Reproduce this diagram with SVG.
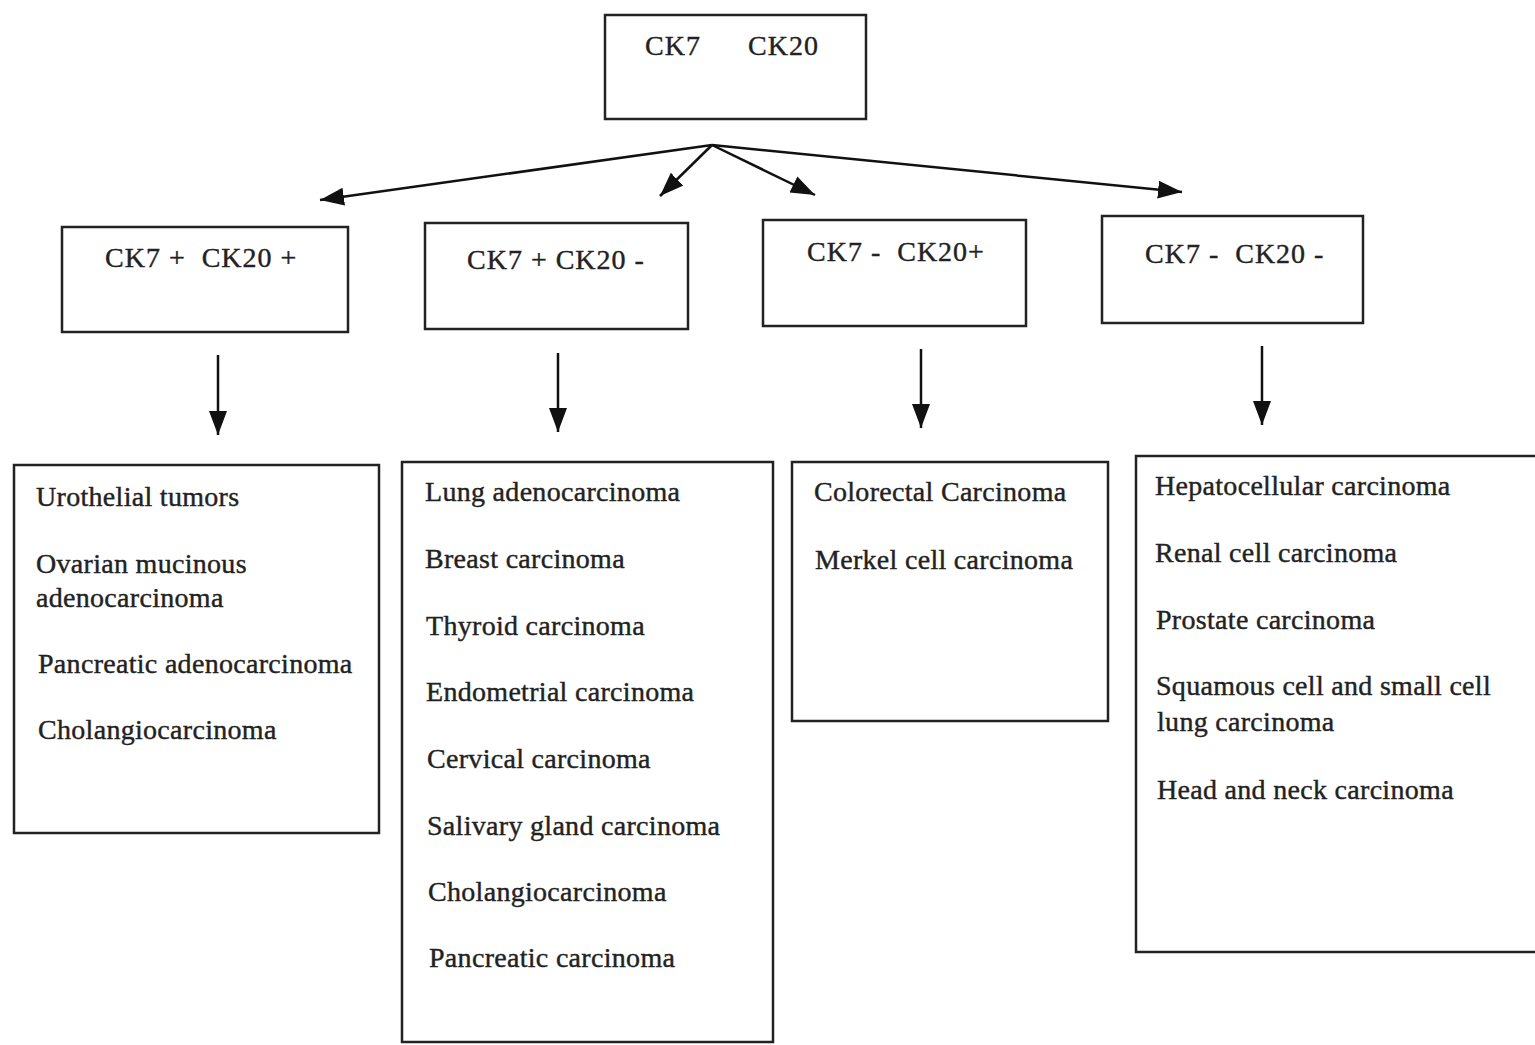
<svg xmlns="http://www.w3.org/2000/svg" width="1535" height="1045" viewBox="0 0 1535 1045">
<style>
.box{fill:#fff;stroke:#222;stroke-width:2.5}
.t{font-family:"Liberation Serif","Times New Roman",serif;font-size:28px;letter-spacing:0.3px;fill:#222;stroke:#222;stroke-width:0.4}
.h{font-family:"Liberation Serif","Times New Roman",serif;font-size:28px;letter-spacing:1px;fill:#222;stroke:#222;stroke-width:0.4}
.c{stroke:#111;stroke-width:2.5;fill:none;marker-end:url(#ah)}
</style>
<defs>
<marker id="ah" markerUnits="userSpaceOnUse" markerWidth="26" markerHeight="22" refX="24" refY="11" orient="auto">
<path d="M0,2 L24,11 L0,20 Z" fill="#111"/>
</marker>
</defs>
<rect width="1535" height="1045" fill="#fff"/>
<g id="root">
<rect class="box" x="605" y="15" width="261" height="104"/>
<text class="h" x="645" y="55">CK7</text>
<text class="h" x="748" y="55">CK20</text>
</g>
<g id="n1">
<rect class="box" x="62" y="227" width="286" height="105"/>
<text class="h" x="105" y="267" xml:space="preserve">CK7 +  CK20 +</text>
</g>
<g id="n2">
<rect class="box" x="425" y="223" width="263" height="106"/>
<text class="h" x="467" y="269">CK7 + CK20 -</text>
</g>
<g id="n3">
<rect class="box" x="763" y="220" width="263" height="106"/>
<text class="h" x="807" y="261" xml:space="preserve">CK7 -  CK20+</text>
</g>
<g id="n4">
<rect class="box" x="1102" y="216" width="261" height="107"/>
<text class="h" x="1145" y="263" xml:space="preserve">CK7 -  CK20 -</text>
</g>
<g id="l1">
<rect class="box" x="14" y="465" width="365" height="368"/>
<text class="t" x="36" y="506">Urothelial tumors</text>
<text class="t" x="36" y="573">Ovarian mucinous</text>
<text class="t" x="36" y="607">adenocarcinoma</text>
<text class="t" x="38" y="673">Pancreatic adenocarcinoma</text>
<text class="t" x="38" y="739">Cholangiocarcinoma</text>
</g>
<g id="l2">
<rect class="box" x="402" y="462" width="371" height="580"/>
<text class="t" x="425" y="501">Lung adenocarcinoma</text>
<text class="t" x="425" y="568">Breast carcinoma</text>
<text class="t" x="426" y="635">Thyroid carcinoma</text>
<text class="t" x="426" y="701">Endometrial carcinoma</text>
<text class="t" x="427" y="768">Cervical carcinoma</text>
<text class="t" x="427" y="835">Salivary gland carcinoma</text>
<text class="t" x="428" y="901">Cholangiocarcinoma</text>
<text class="t" x="429" y="967">Pancreatic carcinoma</text>
</g>
<g id="l3">
<rect class="box" x="792" y="462" width="316" height="259"/>
<text class="t" x="814" y="501">Colorectal Carcinoma</text>
<text class="t" x="815" y="569">Merkel cell carcinoma</text>
</g>
<g id="l4">
<rect class="box" x="1136" y="456" width="410" height="496"/>
<text class="t" x="1155" y="495">Hepatocellular carcinoma</text>
<text class="t" x="1155" y="562">Renal cell carcinoma</text>
<text class="t" x="1156" y="629">Prostate carcinoma</text>
<text class="t" x="1156" y="695">Squamous cell and small cell</text>
<text class="t" x="1157" y="731">lung carcinoma</text>
<text class="t" x="1157" y="799">Head and neck carcinoma</text>
</g>
<g id="connectors">
<line class="c" x1="712" y1="145" x2="320" y2="200"/>
<line class="c" x1="712" y1="145" x2="660" y2="196"/>
<line class="c" x1="712" y1="145" x2="815" y2="195"/>
<line class="c" x1="712" y1="145" x2="1182" y2="192"/>
<line class="c" x1="218" y1="355" x2="218" y2="435"/>
<line class="c" x1="558" y1="353" x2="558" y2="432"/>
<line class="c" x1="921" y1="349" x2="921" y2="428"/>
<line class="c" x1="1262" y1="346" x2="1262" y2="425"/>
</g>
</svg>
